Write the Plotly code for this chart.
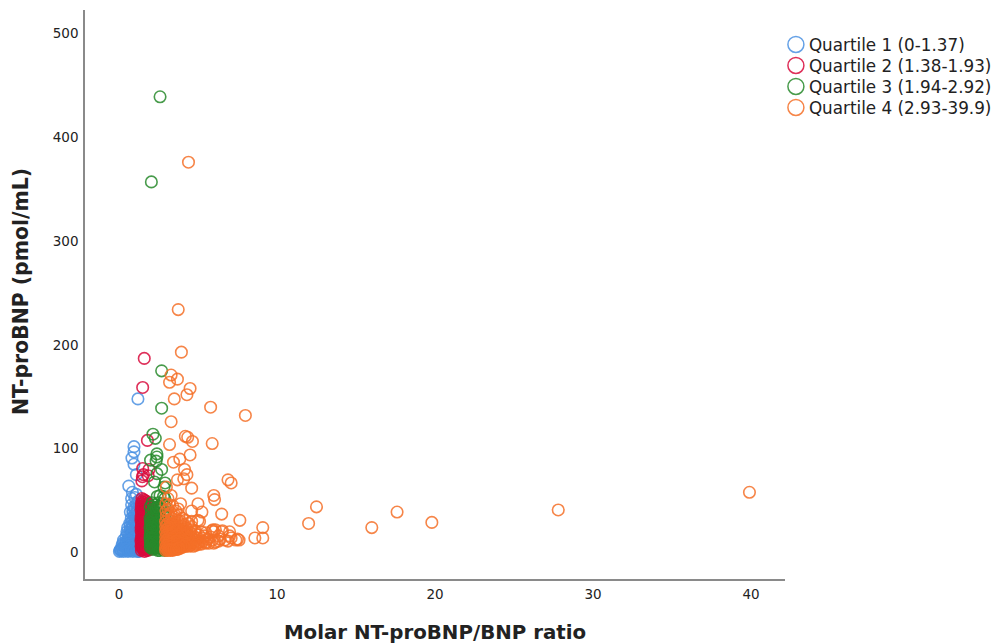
import plotly.graph_objects as go

legend_labels = ["Quartile 1 (0-1.37)", "Quartile 2 (1.38-1.93)", "Quartile 3 (1.94-2.92)", "Quartile 4 (2.93-39.9)"]
colors = ["rgba(74,144,226,0.85)", "rgba(216,10,60,0.85)", "rgba(40,138,44,0.85)", "rgba(244,112,40,0.85)"]

q1 = [(1.2,148),(0.95,102),(0.95,97),(0.82,91),(0.95,85),(1.1,75),(0.62,64),(0.85,58),(1.1,56),(1.0,53),(0.8,52),(1.25,50),
(0.8,46),(0.95,44),(1.12,47),(1.3,45),(0.72,39),(0.88,40),(1.03,37),(1.18,41),(1.31,36),(0.78,33),(0.92,31),(1.07,34),(1.21,30),(1.34,33),
(0.68,28),(0.84,26),(0.99,29),(1.16,27),(1.3,25),(0.55,24),(0.71,22),(0.86,24),(1.01,21),(1.14,23),(1.28,20),
(0.5,20),(0.63,17),(0.78,19),(0.93,16),(1.09,18),(1.24,15),(1.35,17),(0.44,15),(0.58,12),(0.73,14),(0.87,11),(1.02,13),(1.17,10),(1.31,12),
(0.29,12),(0.42,9),(0.6,8),(0.75,10),(0.9,7),(1.05,9),(1.2,6),(1.33,8),(0.2,7),(0.35,5),(0.5,6),(0.65,4),(0.8,6),(0.95,3),(1.1,5),(1.25,3),
(0.03,1),(0.15,2),(0.28,1),(0.42,2),(0.57,1),(0.72,2),(0.88,1),(1.03,2),(1.18,1),(1.33,2),(0.1,3),(0.22,4),
(0.9,38),(1.0,42),(1.1,39),(1.2,36),(0.95,35),(1.05,30),(1.15,32),(0.8,29),(0.9,27),(1.0,25),(1.1,24),(1.2,22),(0.7,25),(0.8,20),(0.9,21),(1.0,18),(1.1,20),(1.2,18),
(0.55,18),(0.65,15),(0.75,16),(0.85,13),(0.95,14),(1.05,15),(1.15,13),(1.25,11),(0.45,11),(0.55,10),(0.65,11),(0.75,8),(0.85,9),(0.95,10),(1.05,7),(1.15,8),(1.28,6),
(0.25,9),(0.35,7),(0.45,6),(0.55,5),(0.7,6),(0.85,4),(1.0,5),(1.15,3),(0.08,2),(0.2,3),(0.33,3),(0.48,3),(0.62,2),(0.78,3),(0.94,2),(1.1,2),(1.26,1)]

q2 = [(1.6,187),(1.5,159),(1.8,108),(1.5,81),(1.9,80),(1.55,75),(1.48,73),(1.85,74),(1.45,69),
(1.45,52),(1.55,51),(1.65,50),(1.75,49),(1.85,47),(1.92,45),(1.42,47),(1.52,45),(1.62,46),(1.72,44),(1.82,43),
(1.4,41),(1.5,40),(1.6,41),(1.7,39),(1.8,38),(1.9,40),(1.44,36),(1.54,35),(1.64,36),(1.74,34),(1.86,33),
(1.39,31),(1.49,30),(1.59,31),(1.69,29),(1.8,28),(1.91,30),(1.43,26),(1.53,25),(1.63,26),(1.73,24),(1.85,23),
(1.4,21),(1.5,20),(1.6,21),(1.7,19),(1.8,18),(1.92,20),(1.44,16),(1.54,15),(1.64,16),(1.74,14),(1.86,13),
(1.39,11),(1.49,10),(1.59,11),(1.69,9),(1.8,8),(1.91,10),(1.44,6),(1.54,5),(1.64,6),(1.74,4),(1.86,3),(1.42,2),(1.52,3),(1.62,1),(1.72,2),(1.82,2),(1.91,3),
(1.47,49),(1.57,48),(1.68,47),(1.78,46),(1.41,44),(1.49,43),(1.58,43),(1.67,42),(1.45,38),(1.56,38),(1.66,37),(1.4,34),(1.49,33),(1.59,33),(1.69,32),
(1.44,29),(1.54,28),(1.64,28),(1.4,24),(1.48,23),(1.58,23),(1.68,22),(1.44,19),(1.54,18),(1.64,18),(1.41,14),(1.49,13),(1.59,13),(1.69,12),(1.44,9),(1.54,8),(1.64,8),(1.4,6),(1.49,4),(1.59,4)]

q3 = [(2.6,439),(2.05,357),(2.7,175),(2.7,139),(2.15,114),(2.3,110),(2.4,95),(2.4,92),(2.0,89),(2.35,88),(2.7,80),(2.4,76),(2.25,68),(2.92,67),(2.85,63),
(2.6,55),(2.42,54),(2.82,54),(2.9,52),(2.1,48),(2.28,46),(2.5,48),(2.72,47),(2.88,45),
(1.98,44),(2.15,42),(2.33,43),(2.52,41),(2.7,42),(2.88,40),(2.05,38),(2.22,36),(2.4,38),(2.58,36),(2.76,37),(2.9,35),
(1.97,33),(2.12,32),(2.3,33),(2.48,31),(2.66,32),(2.84,30),(2.04,28),(2.2,27),(2.38,28),(2.56,26),(2.74,27),(2.91,25),
(1.96,24),(2.12,22),(2.3,23),(2.48,21),(2.66,22),(2.84,20),(2.04,18),(2.2,17),(2.38,18),(2.56,16),(2.74,17),(2.91,15),
(1.96,14),(2.12,12),(2.3,13),(2.48,11),(2.66,12),(2.84,10),(2.04,8),(2.2,7),(2.38,8),(2.56,6),(2.74,7),(2.91,5),
(1.98,5),(2.14,3),(2.3,4),(2.46,2),(2.62,4),(2.78,3),(2.9,2),
(2.08,34),(2.2,31),(2.32,29),(2.44,34),(2.56,31),(2.0,29),(2.12,27),(2.28,25),(2.42,25),(2.54,22),(2.66,27),(2.0,21),(2.1,19),(2.24,20),(2.36,20),(2.5,18),(2.62,18),(2.8,24),
(1.98,17),(2.08,15),(2.18,14),(2.28,16),(2.4,14),(2.52,14),(2.64,14),(2.76,12),(2.0,11),(2.1,10),(2.22,10),(2.34,9),(2.44,10),(2.56,9),(2.68,9),(2.8,7),
(2.0,8),(2.08,5),(2.18,5),(2.26,6),(2.38,5),(2.5,4),(2.58,2),(2.7,4),(2.84,6),(2.9,3),(2.1,24),(2.24,39),(2.36,42),(2.46,44),(2.62,45)]

q4 = [(39.9,58),(27.8,41),(19.8,29),(17.6,39),(16.0,24),(12.5,44),(12.0,28),(9.1,24),(9.1,14),(8.6,14),
(4.4,376),(3.75,234),(3.95,193),(3.3,171),(3.7,167),(3.2,164),(4.5,158),(4.3,152),(3.5,148),(5.8,140),(8.0,132),(3.3,126),
(4.2,112),(4.35,111),(4.65,107),(3.2,104),(5.9,105),(4.5,94),(3.85,90),(3.45,87),(4.15,80),(4.3,75),(4.1,71),(3.7,70),(6.9,70),(7.1,67),
(4.6,62),(3.3,55),(6.0,55),(6.05,51),(3.9,47),(5.0,47),(4.6,40),(5.25,39),(6.5,37),(7.65,31),(3.4,45),(3.1,52),(3.0,63),
(4.2,31),(4.6,30),(5.0,31),(5.1,30),(7.6,12),(7.5,13),(7.0,20),(7.1,14),(6.9,11),(6.55,21),(6.4,13),(6.1,22),(6.0,20),(5.9,12),(6.1,10),(5.95,22),(5.5,19),(5.2,20),(5.6,13),
(5.3,11),(5.0,14),(4.8,21),(4.6,25),(4.4,28),(4.2,24),(4.0,33),(3.8,36),(3.6,40),(3.3,38),(3.1,42),(3.0,35),
(2.95,30),(3.1,28),(3.25,30),(3.4,27),(3.55,29),(3.7,26),(3.85,28),(4.0,25),(4.15,20),(4.3,18),(4.5,19),(4.7,16),(4.9,12),(5.1,10),
(2.96,25),(3.1,23),(3.25,24),(3.4,22),(3.55,23),(3.7,20),(3.85,21),(4.0,18),
(2.95,20),(3.1,18),(3.25,19),(3.4,17),(3.55,18),(3.7,15),(3.85,16),(4.0,13),(4.15,14),(4.3,11),(4.5,12),(4.7,9),
(2.96,15),(3.1,13),(3.25,14),(3.4,12),(3.55,13),(3.7,10),(3.85,11),(4.0,8),(4.15,9),(4.3,7),(4.5,7),(4.7,6),(4.9,8),(5.2,8),(5.5,9),
(2.95,10),(3.1,8),(3.25,9),(3.4,7),(3.55,8),(3.7,6),(3.85,7),(4.0,5),(4.2,6),
(2.95,5),(3.1,4),(3.25,5),(3.4,3),(3.55,4),(3.7,3),(3.85,4),(2.95,2),(3.1,2),(3.25,2),(3.4,2),
(3.02,27),(3.18,26),(3.32,27),(3.48,25),(3.62,24),(3.78,23),(3.92,22),(4.08,21),(4.22,19),(4.38,17),(4.58,15),(3.02,22),(3.18,21),(3.32,21),(3.48,20),(3.62,21),(3.78,18),(3.92,18),(4.08,16),(4.22,16),(4.38,14),(4.58,11),(4.78,13),
(3.02,17),(3.18,16),(3.32,16),(3.48,15),(3.62,16),(3.78,13),(3.92,14),(4.08,11),(4.22,12),(4.38,9),(4.58,9),(4.78,10),(5.0,10),(5.3,14),(3.02,12),(3.18,11),(3.32,11),(3.48,10),(3.62,11),(3.78,8),(3.92,9),(4.08,7),(4.22,8),(4.4,6),
(3.02,7),(3.18,6),(3.32,6),(3.48,5),(3.62,6),(3.78,5),(3.92,6),(4.08,6),(3.02,3),(3.18,3),(3.32,3),(3.48,3),(3.62,3),(3.78,4),
(2.98,40),(3.15,35),(3.35,33),(3.5,34),(3.7,31),(3.9,30),(4.1,27),(4.3,23),(4.55,22),(4.85,18),(5.05,17),(5.4,16),(5.8,15),(6.3,16),(6.7,12),(2.97,47),(3.2,46),(3.55,36),(3.75,42),
(5.9,21),(6.5,20),(7.0,16),(7.4,12),(6.3,11),(6.0,9),(5.7,9),(5.5,10),(5.05,8),(4.85,7)]

series = [q1, q2, q3, q4]

fig = go.Figure()
for pts, color in zip(series, colors):
    fig.add_trace(go.Scatter(x=[p[0] for p in pts], y=[p[1] for p in pts], mode="markers", showlegend=False,
                             hoverinfo="skip",
                             marker=dict(symbol="circle-open", size=11.5, line=dict(width=1.6, color=color), color=color)))
for label, color in zip(legend_labels, colors):
    fig.add_trace(go.Scatter(x=[None], y=[None], mode="markers", name=label,
                             marker=dict(symbol="circle-open", size=16, line=dict(width=1.5, color=color), color=color)))

axis = dict(showgrid=False, zeroline=False, showline=True, linecolor="#8a8a8a", linewidth=1.5, mirror=False,
            ticks="outside", ticklen=2, tickcolor="rgba(0,0,0,0)",
            tickfont=dict(family="DejaVu Sans", size=13.5, color="#222"))
fig.update_layout(
    width=993, height=644, paper_bgcolor="white", plot_bgcolor="white",
    margin=dict(l=85, r=208, t=10, b=65, autoexpand=False),
    xaxis=dict(axis, range=[-2.15, 42.15], tickvals=[0, 10, 20, 30, 40],
               title=dict(text="<b>Molar NT-proBNP/BNP ratio</b>", standoff=24, font=dict(family="DejaVu Sans", size=19.8, color="#222"))),
    yaxis=dict(axis, range=[-25.5, 522.6], tickvals=[0, 100, 200, 300, 400, 500],
               title=dict(text="<b>NT-proBNP (pmol/mL)</b>", standoff=20, font=dict(family="DejaVu Sans", size=20.4, color="#222"))),
    legend=dict(x=0.977, y=0.970, xanchor="left", yanchor="top", font=dict(family="DejaVu Sans", size=16.8, color="#222"),
                tracegroupgap=0, itemwidth=30, bgcolor="rgba(0,0,0,0)"),
)
post = """document.body.style.margin='0';
document.querySelectorAll('.legendsymbols').forEach(g => g.setAttribute('transform','translate(7,0)'));
const rows = document.querySelectorAll('.legend .traces');
const first = rows.length ? parseFloat(rows[0].getAttribute('transform').split(',')[1]) : 0;
rows.forEach((g,i) => g.setAttribute('transform','translate(0,'+(first+i*21)+')'));
const yt = document.querySelector('.ytitle');
if (yt) yt.setAttribute('transform','translate(1,-3) '+(yt.getAttribute('transform')||''));"""
fig.write_html("out.html", post_script=post, config={"displayModeBar": False})
